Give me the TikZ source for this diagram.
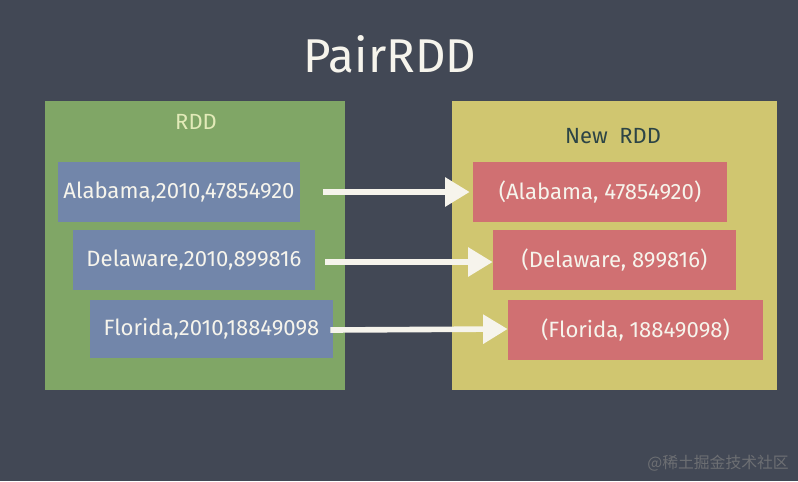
\documentclass[tikz,border=0pt]{standalone}
\usepackage{fontspec}
\setmainfont{Fira Sans}
\newfontfamily\cjk{Noto Sans CJK SC}
\usetikzlibrary{positioning,arrows.meta}
\definecolor{board}{RGB}{66,72,85}
\definecolor{oldgreen}{RGB}{128,166,102}
\definecolor{oldblue}{RGB}{114,134,170}
\definecolor{oldyellow}{RGB}{208,198,112}
\definecolor{oldred}{RGB}{208,112,114}
\definecolor{chalk}{RGB}{246,244,236}
\definecolor{paleleaf}{RGB}{226,234,184}
\definecolor{darkslate}{RGB}{44,68,70}

\begin{document}
\begin{tikzpicture}[x=0.02cm,y=-0.02cm,
		rec/.style={fill=oldblue,text=chalk,minimum height=1.2cm,
			font=\fontsize{12.6}{15}\selectfont},
		pair/.style={fill=oldred,text=chalk,minimum height=1.2cm,
			font=\fontsize{12.6}{15}\selectfont},
		mapto/.style={-{Triangle[length=14pt,width=16pt]},line width=3.2pt,chalk}]
		
		\fill[board] (0,0) rectangle (798,481);
		
		\node[font=\fontsize{27}{32}\selectfont,text=chalk] (title)
		at (390,54) {PairRDD};
		
		% left side
		\node[fill=oldgreen,minimum width=6cm,minimum height=5.78cm] (rdd)
		at (195,245.5) {};
		\node[text=paleleaf,font=\fontsize{12.5}{15}\selectfont] (rddlab)
		at (196,122) {RDD};
		
		\node[rec,minimum width=4.84cm] (a1) at (179,192)
		{Alabama,2010,47854920};
		\node[rec,minimum width=4.84cm] (a2) at (194,260)
		{Delaware,2010,899816};
		\node[rec,minimum width=4.86cm,minimum height=1.16cm] (a3) at (211.5,329)
		{Florida,2010,18849098};
		
		% right side
		\node[fill=oldyellow,minimum width=6.5cm,minimum height=5.78cm] (new)
		at (614.5,245.5) {};
		\node[text=darkslate,font=\fontsize{12.5}{15}\selectfont] (newlab)
		at (613,136) {New\ \ RDD};
		
		\node[pair,minimum width=5.08cm] (n1) at (600,192)
		{(Alabama, 47854920)};
		\node[pair,minimum width=4.86cm] (n2) at (614.5,260)
		{(Delaware, 899816)};
		\node[pair,minimum width=5.1cm] (n3) at (635.5,330)
		{(Florida, 18849098)};
		
		\draw[mapto] ([xshift=0.44cm]a1.east) -- ([xshift=-0.06cm]n1.west);
		\draw[mapto] ([xshift=0.2cm,yshift=-0.04cm]a2.east) -- ([yshift=-0.04cm]n2.west);
		\draw[mapto] ([xshift=-0.06cm,yshift=-0.02cm]a3.east) -- ([yshift=0.02cm]n3.west);
		
		\node[text=gray!70!board,font=\cjk\small,anchor=east] (mark)
		at (795,463) {@稀土掘金技术社区};
		
	\end{tikzpicture}
\end{document}
